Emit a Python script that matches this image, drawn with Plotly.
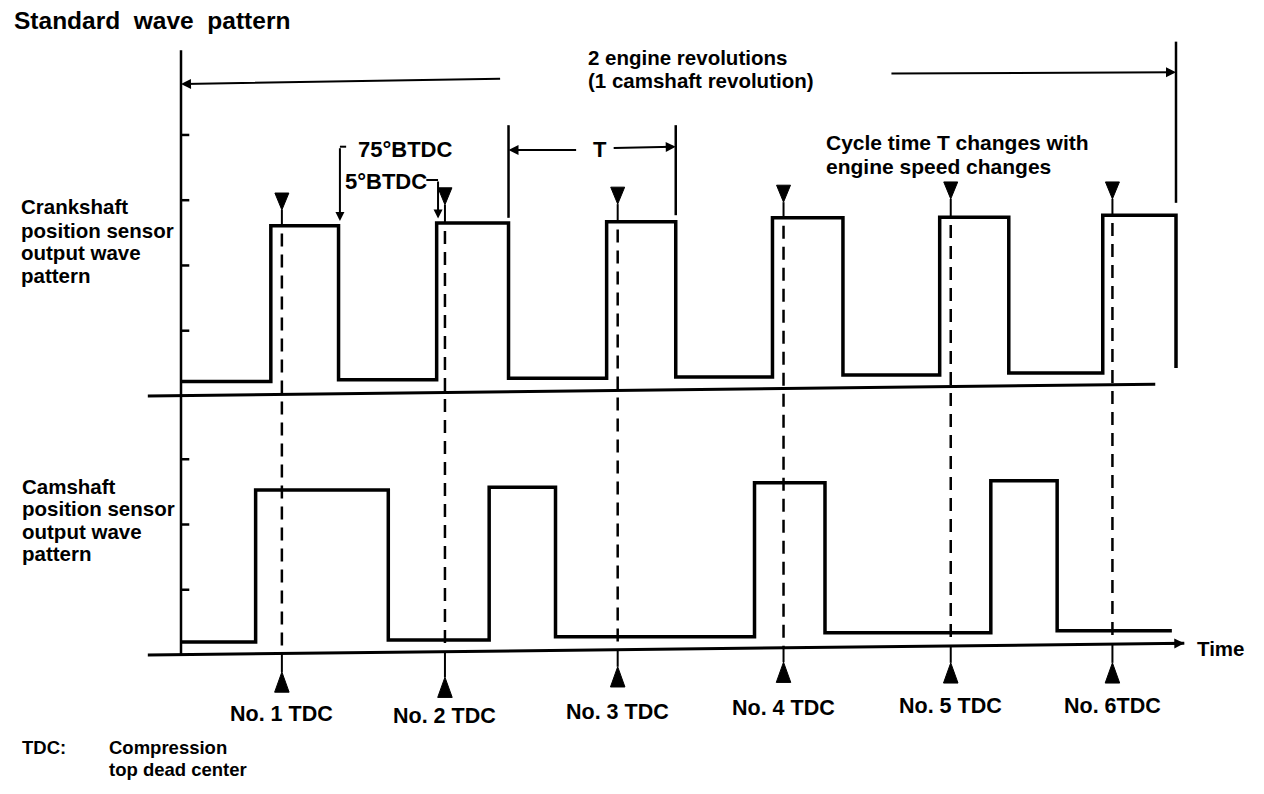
import plotly.graph_objects as go
import numpy as np

# ---------------- data (x: crank angle in degrees, y: signal level in chart divisions) -------------
crank_rise_deg = [65, 185, 308, 428, 549, 667]
crank_fall_deg = [114, 237, 358, 479, 599, 720]
crank_high = [2.61, 2.65, 2.67, 2.73, 2.74, 2.77]
crank_low = [0.22, 0.25, 0.27, 0.29, 0.32, 0.35]
crank_tail = 0.43

cam_rise_deg = [54, 223, 415, 586]
cam_fall_deg = [150, 271, 466, 634]
cam_high = [2.53, 2.57, 2.64, 2.67]
cam_low = [0.20, 0.23, 0.28, 0.34, 0.37]
cam_end_deg = 717

tdc_deg = [73, 191, 316, 436, 557, 674]
tdc_labels = ["No. 1 TDC", "No. 2 TDC", "No. 3 TDC", "No. 4 TDC", "No. 5 TDC", "No. 6TDC"]
tdc_upper_marker = [3.11, 3.19, 3.20, 3.23, 3.28, 3.28]      # crank divisions (top of ▼)
tdc_lower_marker = [-0.26, -0.34, -0.18, -0.11, -0.12, -0.12]  # cam divisions (tip of ▲)
tdc_label_level = [-0.90, -0.93, -0.87, -0.81, -0.78, -0.78]   # cam divisions

crank_axis_deg = [-24, 705]
crank_axis_level = [0.0, 0.18]
cam_axis_deg = [-24, 726]
cam_axis_level = [0.0, 0.18]
crank_ticks = [1, 2, 3, 4]
cam_ticks = [1, 2, 3]

revolution_span_deg = 720
btdc_75 = 75
btdc_5 = 5

# ---------------- layout calibration ----------------
FONT = "Liberation Sans, Arial, sans-serif"
PX_PER_DEG = 995 / 720
AXIS_X_PAGE = 181
PX_PER_DIV = 65.25
CAM_ZERO_PAGE = 655
CRANK_ZERO = 3.97          # crank panel zero in shared y scale
PAGE_OFFSET = 8
FIG_W, FIG_H = 1248, 778

x_range = [(PAGE_OFFSET - AXIS_X_PAGE) / PX_PER_DEG,
           (PAGE_OFFSET + FIG_W - AXIS_X_PAGE) / PX_PER_DEG]
y_range = [(CAM_ZERO_PAGE - PAGE_OFFSET - FIG_H) / PX_PER_DIV,
           (CAM_ZERO_PAGE - PAGE_OFFSET) / PX_PER_DIV]

fig = go.Figure()


def add_line(xs, ys, width=2, dash=None, fill=None):
    fig.add_trace(go.Scatter(x=xs, y=ys, mode="lines",
                             line=dict(color="black", width=width, dash=dash),
                             fill=fill, fillcolor="black" if fill else None,
                             hoverinfo="skip", showlegend=False))


# crank waveform
cx, cy = [0], [crank_low[0]]
for i in range(len(crank_rise_deg)):
    nxt = crank_low[i + 1] if i + 1 < len(crank_low) else crank_tail
    cx += [crank_rise_deg[i], crank_rise_deg[i], crank_fall_deg[i], crank_fall_deg[i]]
    cy += [crank_low[i], crank_high[i], crank_high[i], nxt]
add_line(cx, [v + CRANK_ZERO for v in cy], width=3.5)

# cam waveform
mx, my = [0], [cam_low[0]]
for i in range(len(cam_rise_deg)):
    mx += [cam_rise_deg[i], cam_rise_deg[i], cam_fall_deg[i], cam_fall_deg[i]]
    my += [cam_low[i], cam_high[i], cam_high[i], cam_low[i + 1]]
mx.append(cam_end_deg)
my.append(cam_low[-1])
add_line(mx, my, width=3.5)

# baselines
add_line(crank_axis_deg, [v + CRANK_ZERO for v in crank_axis_level], width=3)
add_line(cam_axis_deg, cam_axis_level, width=3)

# left vertical axis
add_line([0, 0], [0, CRANK_ZERO + 5.30], width=2.5)

# ticks
TICK_LEN = 6
tx, ty = [], []
for t in crank_ticks:
    tx += [0, TICK_LEN, None]
    ty += [t + CRANK_ZERO, t + CRANK_ZERO, None]
for t in cam_ticks:
    tx += [0, TICK_LEN, None]
    ty += [t, t, None]
add_line(tx, ty, width=2.5)

# TDC dashed guides, stems and markers
def cam_base_at(x):
    return float(np.interp(x, cam_axis_deg, cam_axis_level))

UP_W, UP_H = 10.1, 0.26
LO_W, LO_H = 10.5, 0.31
gx, gy, sx, sy, px_, py_ = [], [], [], [], [], []
for i, t in enumerate(tdc_deg):
    gx += [t, t, None]
    gy += [crank_high[i] + CRANK_ZERO - 0.12, cam_base_at(t), None]
    top = tdc_upper_marker[i] + CRANK_ZERO
    sx += [t, t, None, t, t, None]
    sy += [top - UP_H, crank_high[i] + CRANK_ZERO, None, cam_base_at(t), tdc_lower_marker[i], None]
    px_ += [t - UP_W / 2, t + UP_W / 2, t, t - UP_W / 2, None]
    py_ += [top, top, top - UP_H, top, None]
    tip = tdc_lower_marker[i]
    px_ += [t - LO_W / 2, t + LO_W / 2, t, t - LO_W / 2, None]
    py_ += [tip - LO_H, tip - LO_H, tip, tip - LO_H, None]
add_line(gx, gy, width=2.5, dash="13px,8px")
add_line(sx, sy, width=2)
add_line(px_, py_, width=1, fill="toself")

# dimension brackets
add_line([revolution_span_deg, revolution_span_deg], [5.43 + CRANK_ZERO, 2.96 + CRANK_ZERO], width=2.5)
add_line([crank_fall_deg[1], crank_fall_deg[1]], [4.15 + CRANK_ZERO, 2.73 + CRANK_ZERO], width=2.5)
add_line([crank_fall_deg[2], crank_fall_deg[2]], [4.15 + CRANK_ZERO, 2.77 + CRANK_ZERO], width=2.5)
# BTDC hooks
b75 = tdc_deg[1] - btdc_75
b5 = tdc_deg[1] - btdc_5
add_line([b75 + 3.5, b75 - 1], [3.82 + CRANK_ZERO, 3.82 + CRANK_ZERO], width=2)
add_line([b5 - 8.5, b5], [3.31 + CRANK_ZERO, 3.31 + CRANK_ZERO], width=2)

annotations = []


def arrow(x, y, ax, ay, width=2, size=1.0):
    annotations.append(dict(x=x, y=y, ax=ax, ay=ay, xref="x", yref="y", axref="x", ayref="y",
                            text="", showarrow=True, arrowhead=2, arrowsize=size,
                            arrowwidth=width, arrowcolor="black", standoff=0, startstandoff=0))


arrow(0, 4.78 + CRANK_ZERO, 232, 4.86 + CRANK_ZERO)
arrow(revolution_span_deg, 4.96 + CRANK_ZERO, 513, 4.94 + CRANK_ZERO)
arrow(crank_fall_deg[1], 3.77 + CRANK_ZERO, 287, 3.77 + CRANK_ZERO)
arrow(crank_fall_deg[2], 3.82 + CRANK_ZERO, 312, 3.80 + CRANK_ZERO)
arrow(b75 - 1, crank_high[0] + 0.07 + CRANK_ZERO, b75 - 1, 3.82 + CRANK_ZERO, width=2, size=0.9)
arrow(b5, crank_high[1] + 0.07 + CRANK_ZERO, b5, 3.31 + CRANK_ZERO, width=2, size=0.9)
arrow(cam_axis_deg[1], cam_axis_level[1], cam_axis_deg[1] - 15, cam_axis_level[1] - 0.004, width=2.5, size=0.8)


def label(text, x, y, size=20.5, xanchor="left"):
    annotations.append(dict(x=x, y=y, xref="x", yref="y", text=text, showarrow=False,
                            xanchor=xanchor, yanchor="middle",
                            font=dict(family=FONT, size=size, color="black", weight="bold")))


label("Standard\u00a0 wave\u00a0 pattern", -122.3, 9.72, size=24.5)
label("2 engine revolutions", 293, 9.15)
label("(1 camshaft revolution)", 293, 8.80)
label("Cycle time T changes with", 465, 7.85, size=21)
label("engine speed changes", 465, 7.49, size=21)
label("75°BTDC", 126.6, 7.74, size=22)
label("5°BTDC", 117.2, 7.26, size=22)
label("T", 303, 7.74, size=22, xanchor="center")
for txt, yy in zip(["Crankshaft", "position sensor", "output wave", "pattern"], [6.87, 6.51, 6.17, 5.81]):
    label(txt, -117.2, yy)
for txt, yy in zip(["Camshaft", "position sensor", "output wave", "pattern"], [2.59, 2.25, 1.90, 1.56]):
    label(txt, -116.5, yy)
for t, txt, lv in zip(tdc_deg, tdc_labels, tdc_label_level):
    label(txt, t, lv, size=21.5, xanchor="center")
label("Time", 733.8, 0.107)
label("TDC:", -116.5, -1.425, size=18.5)
label("Compression", -53.5, -1.425, size=18.5)
label("top dead center", -53.5, -1.76, size=18.5)

fig.update_layout(
    width=FIG_W, height=FIG_H,
    margin=dict(l=0, r=0, t=0, b=0),
    paper_bgcolor="white", plot_bgcolor="white",
    showlegend=False,
    xaxis=dict(range=x_range, visible=False, fixedrange=True),
    yaxis=dict(range=y_range, visible=False, fixedrange=True),
    annotations=annotations,
)

fig.write_html("out.html")
